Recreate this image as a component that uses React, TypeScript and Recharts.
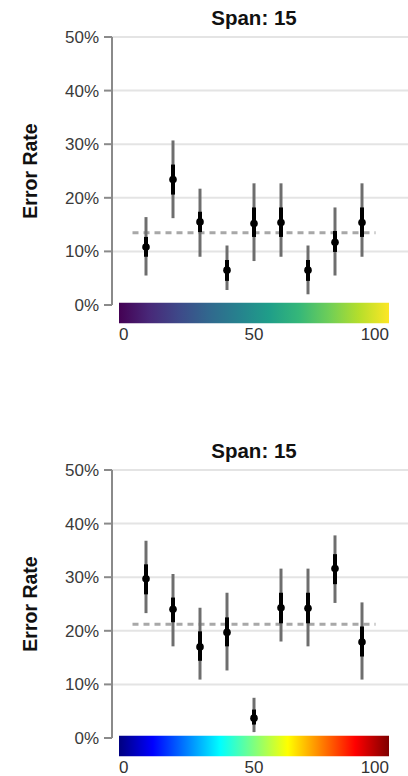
import React from 'react';
import {
  ComposedChart,
  Scatter,
  ErrorBar,
  XAxis,
  YAxis,
  CartesianGrid,
  ReferenceLine,
  ReferenceArea,
} from 'recharts';

const positions = [10, 20, 30, 40, 50, 60, 70, 80, 90];
const yTicks = [0, 10, 20, 30, 40, 50];
const scaleTicks = [0, 50, 100];

// top panel (viridis)
const topMid = [10.8, 23.4, 15.5, 6.5, 15.2, 15.4, 6.5, 11.7, 15.4];
const topLo = [5.5, 16.2, 9.0, 2.8, 8.2, 9.0, 2.0, 5.5, 9.0];
const topHi = [16.4, 30.7, 21.7, 11.1, 22.7, 22.7, 11.1, 18.2, 22.7];
const topInLo = [9.0, 20.6, 13.6, 4.5, 12.7, 12.7, 4.5, 9.9, 12.7];
const topInHi = [12.7, 26.2, 17.4, 8.4, 18.2, 18.2, 8.4, 13.8, 18.2];
const topMean = 13.5;

// bottom panel (jet)
const botMid = [29.7, 24.0, 17.0, 19.7, 3.7, 24.3, 24.2, 31.6, 17.9];
const botLo = [23.3, 17.1, 10.9, 12.6, 1.1, 18.0, 17.1, 25.2, 10.9];
const botHi = [36.8, 30.6, 24.3, 27.1, 7.5, 31.6, 31.6, 37.8, 25.3];
const botInLo = [26.8, 21.6, 14.4, 17.1, 2.5, 21.4, 21.4, 28.7, 15.2];
const botInHi = [32.4, 26.2, 19.9, 22.5, 5.3, 27.1, 27.1, 34.3, 20.8];
const botMean = 21.2;

const viridis = ['#440154', '#482878', '#3e4989', '#31688e', '#26828e', '#1f9e89', '#35b779', '#6ece58', '#b5de2b', '#fde725'];
const jet = ['#00007f', '#0000ff', '#007fff', '#00ffff', '#7fff7f', '#ffff00', '#ff7f00', '#ff0000', '#7f0000'];

const FONT = '"Liberation Sans", Arial, Helvetica, sans-serif';

const buildRows = (mid: number[], lo: number[], hi: number[], inLo: number[], inHi: number[]) =>
  positions.map((x, i) => ({
    x,
    y: mid[i],
    outer: [mid[i] - lo[i], hi[i] - mid[i]],
    inner: [mid[i] - inLo[i], inHi[i] - mid[i]],
  }));

const ScaleTick = (props: any) => {
  const { x, y, payload } = props;
  const v = payload.value;
  const anchor = v === 0 ? 'start' : v === 100 ? 'end' : 'middle';
  return (
    <text x={x} y={y + 27} textAnchor={anchor} fill="#333" fontSize={17} fontFamily={FONT}>
      {v}
    </text>
  );
};

const AxisTitle = (props: any) => {
  const { viewBox } = props;
  const cx = 30;
  const cy = viewBox.y + viewBox.height / 2;
  return (
    <text
      x={cx}
      y={cy}
      transform={`rotate(-90, ${cx}, ${cy})`}
      textAnchor="middle"
      dominantBaseline="central"
      fontSize={19.5}
      fontWeight="bold"
      fill="#111"
      fontFamily={FONT}
    >
      Error Rate
    </text>
  );
};

interface PanelProps {
  top: number;
  rows: ReturnType<typeof buildRows>;
  mean: number;
  gradId: string;
  colors: string[];
}

const Panel: React.FC<PanelProps> = ({ top, rows, mean, gradId, colors }) => (
  <div style={{ position: 'absolute', left: 0, top, width: 408, height: 345 }}>
    <div
      style={{
        position: 'absolute',
        left: 119,
        width: 270,
        top: 6,
        textAlign: 'center',
        fontFamily: FONT,
        fontWeight: 'bold',
        fontSize: 20.5,
        lineHeight: '24px',
        color: '#111',
      }}
    >
      Span: 15
    </div>
    <ComposedChart width={408} height={345} data={rows} margin={{ top: 37, right: 0, bottom: 0, left: 0 }}>
      <defs>
        <linearGradient id={gradId} x1="0" y1="0" x2="1" y2="0">
          {colors.map((c, i) => (
            <stop key={i} offset={`${(i / (colors.length - 1)) * 100}%`} stopColor={c} />
          ))}
        </linearGradient>
      </defs>
      <CartesianGrid vertical={false} horizontalValues={[10, 20, 30, 40, 50]} stroke="#e4e4e4" strokeWidth={2} />
      <XAxis
        type="number"
        dataKey="x"
        domain={[0, 100]}
        ticks={scaleTicks}
        padding={{ left: 7, right: 19 }}
        axisLine={false}
        tickLine={false}
        height={40}
        tick={<ScaleTick />}
      />
      <YAxis
        type="number"
        domain={[0, 50]}
        ticks={yTicks}
        tickFormatter={(v) => `${v}%`}
        width={112}
        tickSize={8}
        tickMargin={5}
        axisLine={{ stroke: '#8a8a8a', strokeWidth: 2 }}
        tickLine={{ stroke: '#8a8a8a', strokeWidth: 2 }}
        tick={{ fill: '#3a3a3a', fontSize: 17, fontFamily: FONT }}
        label={<AxisTitle />}
      />
      <ReferenceArea
        x1={0}
        x2={100}
        y1={-3.4}
        y2={0.4}
        ifOverflow="visible"
        fill={`url(#${gradId})`}
        fillOpacity={1}
        stroke="none"
      />
      <ReferenceLine
        segment={[{ x: 5, y: mean }, { x: 95, y: mean }]}
        stroke="#a8a8a8"
        strokeWidth={3}
        strokeDasharray="6 5"
      />
      <Scatter
        dataKey="y"
        isAnimationActive={false}
        shape={(p: any) => <circle cx={p.cx} cy={p.cy} r={3.8} fill="#000" />}
      >
        <ErrorBar dataKey="outer" direction="y" width={0} stroke="#6e6e6e" strokeWidth={3} />
        <ErrorBar dataKey="inner" direction="y" width={0} stroke="#000" strokeWidth={4} />
      </Scatter>
    </ComposedChart>
  </div>
);

export default function App() {
  const topRows = buildRows(topMid, topLo, topHi, topInLo, topInHi);
  const botRows = buildRows(botMid, botLo, botHi, botInLo, botInHi);
  return (
    <div style={{ position: 'absolute', left: 0, top: 0, width: 408, height: 776, background: '#fff', overflow: 'hidden' }}>
      <Panel top={0} rows={topRows} mean={topMean} gradId="viridis" colors={viridis} />
      <Panel top={433} rows={botRows} mean={botMean} gradId="jet" colors={jet} />
    </div>
  );
}
